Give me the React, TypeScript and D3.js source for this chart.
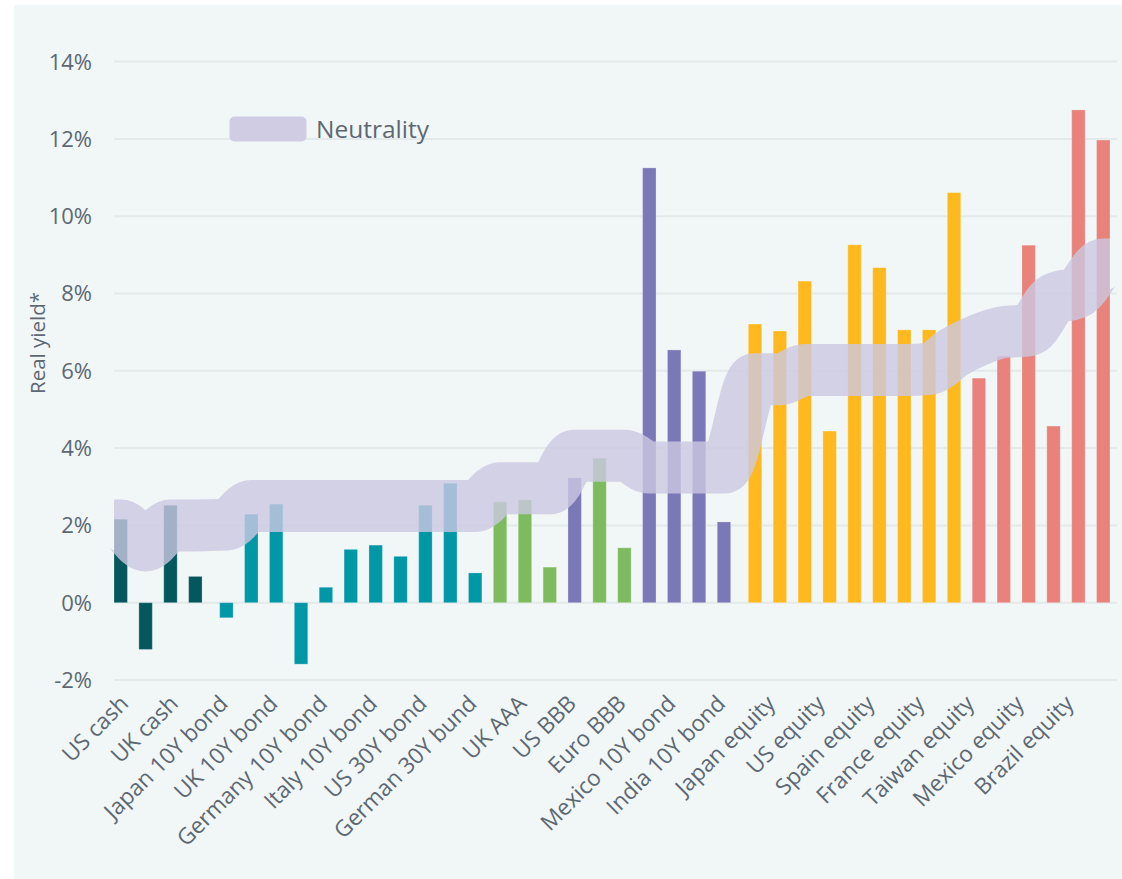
import React from "react";
import * as d3 from "d3";

// Real yield per asset (%), left to right
const realYield = [
  2.16, -1.21, 2.52, 0.68,
  -0.39, 2.29, 2.55, -1.59, 0.4, 1.38, 1.49, 1.2, 2.52, 3.09, 0.77,
  2.61, 2.66, 0.92, 3.23, 3.74, 1.42,
  11.25, 6.54, 5.99, 2.09,
  7.21, 7.03, 8.32, 4.44, 9.26, 8.67, 7.06, 7.06, 10.61,
  5.81, 6.38, 9.25, 4.57, 12.75, 11.97,
];

// Neutral real yield (centre of the shaded neutrality band)
const neutral = [
  2.0, 1.48, 2.0, 2.0,
  2.02, 2.5, 2.5, 2.5, 2.5, 2.5, 2.5, 2.5, 2.5, 2.5, 2.5,
  2.96, 2.96, 2.96, 3.8, 3.8, 3.8,
  3.5, 3.5, 3.5, 3.5,
  5.78, 5.78, 6.02, 6.02, 6.02, 6.02, 6.02, 6.05, 6.48,
  6.8, 7.0, 7.05, 7.85, 8.05, 8.75,
];

// Colour family of each bar
const family = [
  "cash", "cash", "cash", "cash",
  "govt", "govt", "govt", "govt", "govt", "govt", "govt", "govt", "govt", "govt", "govt",
  "credit", "credit", "credit", "em", "credit", "credit",
  "em", "em", "em", "em",
  "dmEq", "dmEq", "dmEq", "dmEq", "dmEq", "dmEq", "dmEq", "dmEq", "dmEq",
  "emEq", "emEq", "emEq", "emEq", "emEq", "emEq",
];

// Asset-class block of each bar: 0 cash, 1 bonds & credit, 2 equities
const block = [
  0, 0, 0, 0,
  1, 1, 1, 1, 1, 1, 1, 1, 1, 1, 1, 1, 1, 1, 1, 1, 1, 1, 1, 1, 1,
  2, 2, 2, 2, 2, 2, 2, 2, 2, 2, 2, 2, 2, 2, 2,
];

// Axis labels, shown on every other bar
const tickLabels = [
  "US cash", "UK cash", "Japan 10Y bond", "UK 10Y bond", "Germany 10Y bond",
  "Italy 10Y bond", "US 30Y bond", "German 30Y bund", "UK AAA", "US BBB",
  "Euro BBB", "Mexico 10Y bond", "India 10Y bond", "Japan equity", "US equity",
  "Spain equity", "France equity", "Taiwan equity", "Mexico equity", "Brazil equity",
];

const yTicks = [-2, 0, 2, 4, 6, 8, 10, 12, 14];

const colors: Record<string, string> = {
  cash: "#04585d",
  govt: "#0097a7",
  credit: "#7dbb5e",
  em: "#7b78b8",
  dmEq: "#ffb81e",
  emEq: "#e8827a",
};

const W = 1122;
const H = 879;
const FONT = "'Open Sans', 'Noto Sans', sans-serif";
const TEXT = "#5c6873";

export default function App() {
  const plotLeft = 114;
  const plotRight = 1117;
  const blockGap = 6.2;

  const y = d3.scaleLinear().domain([-2, 14]).range([680, 61.6]);

  const x = d3
    .scaleBand<number>()
    .domain(d3.range(realYield.length))
    .range([plotLeft, plotLeft + 983.6])
    .paddingInner(0.46)
    .paddingOuter(0);
  const bw = x.bandwidth();
  const barX = (i: number) => (x(i) as number) + block[i] * blockGap;
  const barCx = (i: number) => barX(i) + bw / 2;

  const bandPts: [number, number][] = [
    [plotLeft, y(neutral[0])],
    ...neutral.map((v, i) => [barCx(i), y(v)] as [number, number]),
    [barX(neutral.length - 1) + bw, y(neutral[neutral.length - 1])],
  ];
  const bandPath = d3.line().curve(d3.curveMonotoneX)(bandPts) || "";

  const labelShift = 9;

  return (
    <svg
      width={W}
      height={H}
      style={{ position: "absolute", left: 0, top: 0, display: "block" }}
      fontFamily={FONT}
    >
      <rect x={0} y={0} width={W} height={H} fill="#ffffff" />
      <rect x={14} y={5} width={W - 14} height={H - 5} fill="#f1f6f6" />

      {/* gridlines */}
      {yTicks.map((t) => (
        <line
          key={"g" + t}
          x1={plotLeft}
          x2={plotRight}
          y1={y(t)}
          y2={y(t)}
          stroke="#e3eaea"
          strokeWidth={2}
        />
      ))}

      {/* y tick labels */}
      {yTicks.map((t) => (
        <text
          key={"t" + t}
          x={92}
          y={y(t)}
          dy="0.36em"
          textAnchor="end"
          fontSize={22}
          fill={TEXT}
        >
          {`${t}%`}
        </text>
      ))}

      <text
        transform={`translate(45,${343}) rotate(-90)`}
        textAnchor="middle"
        fontSize={20.5}
        fill={TEXT}
      >
        Real yield*
      </text>

      {/* bars */}
      {realYield.map((v, i) => (
        <rect
          key={"b" + i}
          x={barX(i)}
          width={bw}
          y={Math.min(y(v), y(0))}
          height={Math.abs(y(v) - y(0))}
          fill={colors[family[i]]}
          stroke="rgba(255,255,255,0.25)"
          strokeWidth={1}
        />
      ))}

      {/* neutrality band */}
      <path
        d={bandPath}
        fill="none"
        stroke="rgb(204,200,226)"
        strokeOpacity={0.8}
        strokeWidth={52}
        strokeLinecap="butt"
        strokeLinejoin="round"
      />

      {/* x labels */}
      {tickLabels.map((label, k) => {
        const i = k * 2;
        const lx = (x(i) as number) + bw / 2 + labelShift;
        const ly = 705;
        return (
          <text
            key={"x" + k}
            transform={`translate(${lx},${ly}) rotate(-45)`}
            textAnchor="end"
            fontSize={22.5}
            fill={TEXT}
          >
            {label}
          </text>
        );
      })}

      {/* legend */}
      <rect
        x={229.5}
        y={116.5}
        width={77}
        height={25}
        rx={5}
        fill="rgb(204,200,226)"
        fillOpacity={0.9}
      />
      <text x={316} y={138} fontSize={24.5} fill={TEXT}>
        Neutrality
      </text>
    </svg>
  );
}
